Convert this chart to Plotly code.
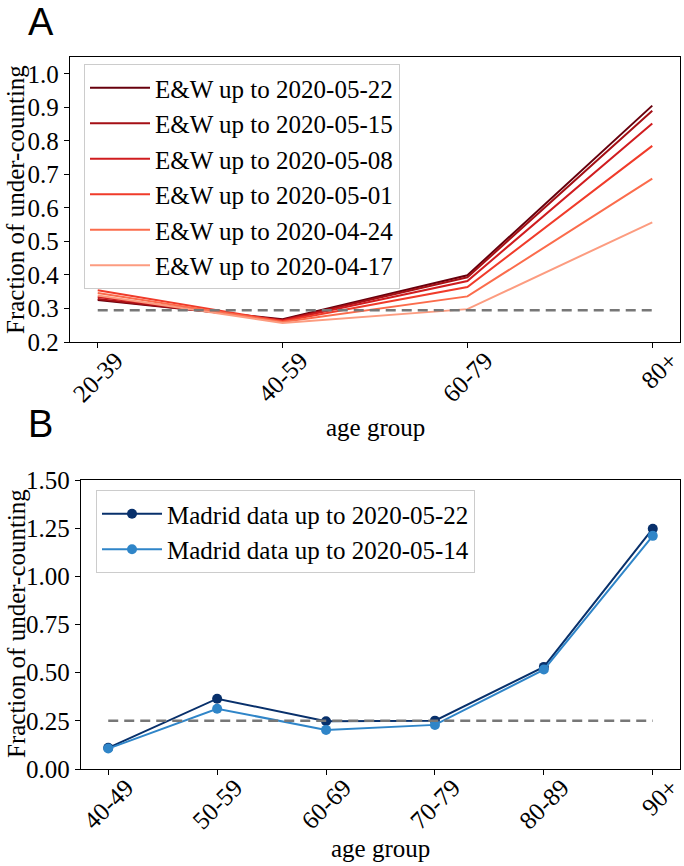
import plotly.graph_objects as go

# panel A: England & Wales
ew_groups = ["20-39", "40-59", "60-79", "80+"]
ew_labels = [
    "E&W up to 2020-05-22",
    "E&W up to 2020-05-15",
    "E&W up to 2020-05-08",
    "E&W up to 2020-05-01",
    "E&W up to 2020-04-24",
    "E&W up to 2020-04-17",
]
ew_values = [
    [0.325, 0.268, 0.399, 0.905],
    [0.328, 0.266, 0.393, 0.890],
    [0.334, 0.264, 0.382, 0.852],
    [0.354, 0.262, 0.364, 0.785],
    [0.346, 0.260, 0.336, 0.687],
    [0.339, 0.257, 0.298, 0.557],
]
ew_colors = ["#67000d", "#a50f15", "#d01c1f", "#f03b2a", "#fb6c4c", "#fc9c80"]
ew_ref = 0.295

# panel B: Madrid
md_groups = ["40-49", "50-59", "60-69", "70-79", "80-89", "90+"]
md_labels = ["Madrid data up to 2020-05-22", "Madrid data up to 2020-05-14"]
md_values = [
    [0.110, 0.365, 0.248, 0.251, 0.530, 1.247],
    [0.106, 0.313, 0.203, 0.229, 0.516, 1.210],
]
md_colors = ["#08306b", "#2f85c8"]
md_ref = 0.25

W, H = 684, 866


def px_x(x):
    return x / W


def px_y(y):
    return 1 - y / H


serif = "Liberation Serif"
fs = 25
fig = go.Figure()

for name, vals, col in zip(ew_labels, ew_values, ew_colors):
    fig.add_trace(go.Scatter(
        x=list(range(len(ew_groups))), y=vals, mode="lines", name=name,
        line=dict(color=col, width=2), xaxis="x", yaxis="y", legend="legend",
    ))
fig.add_trace(go.Scatter(
    x=[0, len(ew_groups) - 1], y=[ew_ref, ew_ref], mode="lines", showlegend=False,
    line=dict(color="#777777", width=2.5, dash="10px,6px"), xaxis="x", yaxis="y",
))

for name, vals, col in zip(md_labels, md_values, md_colors):
    fig.add_trace(go.Scatter(
        x=list(range(len(md_groups))), y=vals, mode="lines+markers", name=name,
        line=dict(color=col, width=2), marker=dict(color=col, size=10),
        xaxis="x2", yaxis="y2", legend="legend2",
    ))
fig.add_trace(go.Scatter(
    x=[0, len(md_groups) - 1], y=[md_ref, md_ref], mode="lines", showlegend=False,
    line=dict(color="#777777", width=2.5, dash="10px,6px"), xaxis="x2", yaxis="y2",
))

axis_style = dict(
    showline=True, linecolor="black", linewidth=1.3, mirror=True,
    ticks="outside", ticklen=5, tickcolor="black", showgrid=False, zeroline=False,
    tickfont=dict(family=serif, size=fs, color="black"), automargin=False,
)
xtick_style = dict(tickangle=-45, ticklabelshift=18, ticklabelstandoff=-12,
                   ticklabeloverflow="allow")
legend_style = dict(xanchor="left", yanchor="top", itemwidth=60,
                    bgcolor="rgba(255,255,255,0.8)", bordercolor="#cccccc", borderwidth=1,
                    font=dict(family=serif, size=fs, color="black"))

fig.update_layout(
    width=W, height=H, margin=dict(l=0, r=0, t=0, b=0),
    plot_bgcolor="white", paper_bgcolor="white",
    xaxis=dict(domain=[px_x(70), px_x(680)], range=[-0.15, 3.15], tickmode="array",
               tickvals=list(range(len(ew_groups))), ticktext=ew_groups,
               anchor="y", **xtick_style, **axis_style),
    yaxis=dict(domain=[px_y(342), px_y(57)], range=[0.2, 1.05], dtick=0.1,
               tickformat=".1f", anchor="x", **axis_style),
    xaxis2=dict(domain=[px_x(81), px_x(680)], range=[-0.25, 5.25], tickmode="array",
                tickvals=list(range(len(md_groups))), ticktext=md_groups,
                anchor="y2", **xtick_style, **axis_style),
    yaxis2=dict(domain=[px_y(769), px_y(480)], range=[0, 1.5], dtick=0.25,
                tickformat=".2f", anchor="x2", **axis_style),
    legend=dict(x=px_x(84), y=px_y(64), **legend_style),
    legend2=dict(x=px_x(96), y=px_y(490), **legend_style),
)

title_font = dict(family=serif, size=fs, color="black")
for yc in [200, 624]:
    fig.add_annotation(text="Fraction of under-counting", x=px_x(16), y=px_y(yc),
                       xref="paper", yref="paper", textangle=-90, showarrow=False,
                       xanchor="center", yanchor="middle", font=title_font)
fig.add_annotation(text="age group", x=px_x(375), y=px_y(427), xref="paper", yref="paper",
                   showarrow=False, xanchor="center", yanchor="middle", font=title_font)
fig.add_annotation(text="age group", x=px_x(380), y=px_y(848), xref="paper", yref="paper",
                   showarrow=False, xanchor="center", yanchor="middle", font=title_font)

letter_font = dict(family="Liberation Sans", size=38, color="black")
fig.add_annotation(text="A", x=px_x(26), y=px_y(22), xref="paper", yref="paper",
                   showarrow=False, xanchor="left", yanchor="middle", font=letter_font)
fig.add_annotation(text="B", x=px_x(26), y=px_y(424), xref="paper", yref="paper",
                   showarrow=False, xanchor="left", yanchor="middle", font=letter_font)

# drop the default 8px body margin so the figure sits at the page origin
fig.write_html("out.html", config={"displayModeBar": False},
               post_script="document.body.style.margin = '0';")
